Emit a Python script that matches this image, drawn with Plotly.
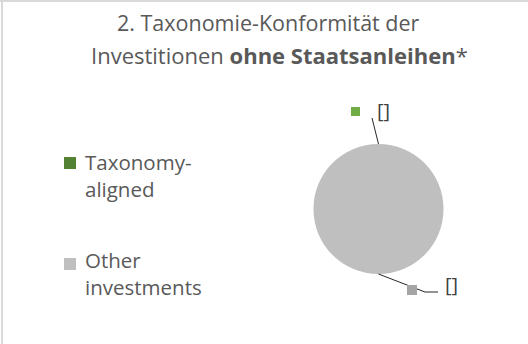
import math
import plotly.graph_objects as go

# Chart content
title_lines = ["2. Taxonomie-Konformität der", "Investitionen <b>ohne Staatsanleihen</b>*"]
categories = ["Taxonomy-aligned", "Other investments"]
legend_texts = ["Taxonomy-<br>aligned", "Other<br>investments"]
shares = [0, 100]
slice_colors = ["#548235", "#bfbfbf"]
label_key_colors = ["#70ad47", "#a5a5a5"]
data_labels = ["[]", "[]"]

W, H = 528, 344
TEXT = "#595959"
FONT = "Open Sans"


def fx(px):
    return px / W


def fy(py):
    return 1 - py / H


# pie placement (pixels)
cx, cy, r = 378.5, 209.0, 65.0

fig = go.Figure()
fig.add_trace(go.Pie(
    labels=categories,
    values=shares,
    marker=dict(colors=slice_colors, line=dict(width=0)),
    textinfo="none",
    sort=False,
    direction="clockwise",
    rotation=0,
    showlegend=False,
    hoverinfo="label+percent",
    domain=dict(x=[fx(cx - r), fx(cx + r)], y=[fy(cy + r), fy(cy - r)]),
))

shapes = []
annotations = []

# chart frame (top and left edges)
shapes.append(dict(type="line", xref="paper", yref="paper", x0=0, x1=1, y0=fy(1), y1=fy(1),
                   line=dict(color="#d9d9d9", width=2)))
shapes.append(dict(type="line", xref="paper", yref="paper", x0=fx(2), x1=fx(2), y0=0, y1=1,
                   line=dict(color="#d9d9d9", width=2)))

# title, one annotation per line for the wider line spacing
for line, xc, top, size in zip(title_lines, [268, 279], [6, 38], [21.5, 22]):
    annotations.append(dict(text=line, xref="paper", yref="paper",
                            x=fx(xc), y=fy(top), xanchor="center", yanchor="top",
                            showarrow=False, align="center",
                            font=dict(family=FONT, size=size, color=TEXT)))

# legend: key square plus two-line text per entry
legend_rows = [163, 264]
legend_text_tops = [146, 244]
for txt, col, yy, top in zip(legend_texts, slice_colors, legend_rows, legend_text_tops):
    shapes.append(dict(type="rect", xref="paper", yref="paper",
                       x0=fx(64), x1=fx(76), y0=fy(yy + 6), y1=fy(yy - 6),
                       fillcolor=col, line=dict(width=0)))
    annotations.append(dict(text=txt, xref="paper", yref="paper", x=fx(83), y=fy(top),
                            xanchor="left", yanchor="top", showarrow=False, align="left",
                            font=dict(family=FONT, size=20.5, color=TEXT)))

# slice mid-angles (clockwise from 12 o'clock) for leader lines
total = sum(shares)
acc = 0
mids = []
for v in shares:
    mids.append((acc + v / 2) / total * 2 * math.pi)
    acc += v


def edge(theta):
    return cx + r * math.sin(theta), cy - r * math.cos(theta)


# label 1: above the pie
ex, ey = edge(mids[0])
shapes.append(dict(type="path", xref="paper", yref="paper",
                   path=f"M {fx(ex)},{fy(ey)} L {fx(372)},{fy(118)}",
                   line=dict(color="#262626", width=1)))
shapes.append(dict(type="rect", xref="paper", yref="paper",
                   x0=fx(351), x1=fx(360), y0=fy(116), y1=fy(107),
                   fillcolor=label_key_colors[0], line=dict(width=0)))
annotations.append(dict(text=data_labels[0], xref="paper", yref="paper", x=fx(383), y=fy(110),
                        xanchor="center", yanchor="middle", showarrow=False,
                        font=dict(family=FONT, size=20, color="#404040")))

# label 2: below right of the pie
ex, ey = edge(mids[1])
shapes.append(dict(type="path", xref="paper", yref="paper",
                   path=f"M {fx(ex)},{fy(ey)} L {fx(425)},{fy(292)} L {fx(438)},{fy(292)}",
                   line=dict(color="#262626", width=1)))
shapes.append(dict(type="rect", xref="paper", yref="paper",
                   x0=fx(407), x1=fx(417), y0=fy(295), y1=fy(285),
                   fillcolor=label_key_colors[1], line=dict(width=0)))
annotations.append(dict(text=data_labels[1], xref="paper", yref="paper", x=fx(451), y=fy(284),
                        xanchor="center", yanchor="middle", showarrow=False,
                        font=dict(family=FONT, size=20, color="#404040")))

fig.update_layout(
    width=W, height=H,
    margin=dict(l=0, r=0, t=0, b=0),
    paper_bgcolor="white",
    plot_bgcolor="white",
    shapes=shapes,
    annotations=annotations,
    font=dict(family=FONT, color=TEXT),
)

fig.write_html("out.html")
